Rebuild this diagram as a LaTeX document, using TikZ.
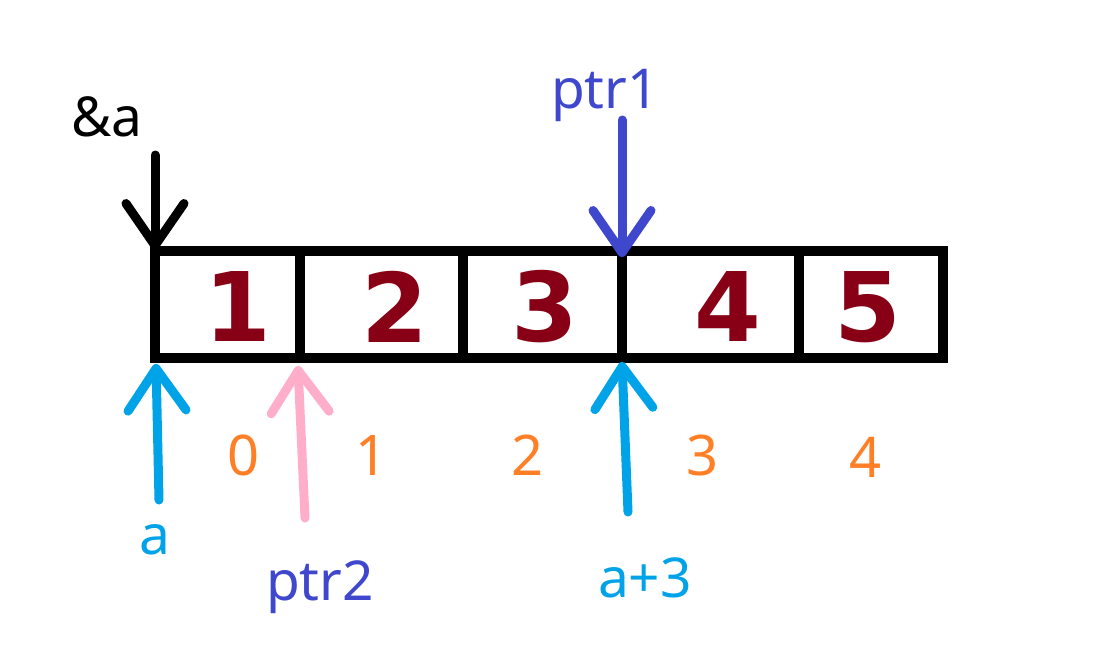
\documentclass[tikz,border=0pt]{standalone}
\usepackage{fontspec}
\setmainfont{Noto Sans}
\newfontfamily\digitfont{DejaVu Sans}
\usetikzlibrary{arrows.meta}
\definecolor{cellred}{HTML}{880015}
\definecolor{ptrblue}{HTML}{3F48CC}
\definecolor{acyan}{HTML}{00A2E8}
\definecolor{pinkp}{HTML}{FFAEC9}
\definecolor{idxorange}{HTML}{FF7F27}
\tikzset{
  boxline/.style={line width=10pt, line cap=rect},
  lbl/.style={inner sep=0pt, font=\fontsize{55}{58}\selectfont},
  digit/.style={inner sep=0pt, text=cellred, font=\digitfont\bfseries\fontsize{96}{96}\selectfont},
  idx/.style={inner sep=0pt, text=idxorange, font=\fontsize{56}{58}\selectfont},
  ptrarrow/.style={line width=9pt, line cap=round,
    -{Straight Barb[length=42pt,width=58pt,line width=9pt,round]}},
}
\begin{document}
\begin{tikzpicture}[x=1pt,y=-1pt]
\useasboundingbox (0,0) rectangle (1114,670);
% array box
\draw[boxline] (155,251) rectangle (943,358);
\foreach \xx in {300,463,622,799} \draw[boxline,line cap=butt] (\xx,251) -- (\xx,358);
% cell values
\node[digit] (v1) at (238,307) {1};
\node[digit] (v2) at (395,307) {2};
\node[digit] (v3) at (545,307) {3};
\node[digit] (v4) at (728,307) {4};
\node[digit] (v5) at (868,307) {5};
% indices
\node[idx] (i0) at (244,455) {0};
\node[idx] (i1) at (372,455) {1};
\node[idx] (i2) at (528,455) {2};
\node[idx] (i3) at (703,455) {3};
\node[idx] (i4) at (866,457) {4};
% labels
\node[lbl] (amp) at (107,117) {\&a};
\node[lbl,text=ptrblue] (p1) at (605,95) {ptr1};
\node[lbl,text=acyan] (la) at (155,540) {a};
\node[lbl,text=ptrblue] (p2) at (320,587) {ptr2};
\node[lbl,text=acyan] (la3) at (645,578) {a+3};
% arrow anchor points
\coordinate (ampS) at (155,155);
\coordinate (ampE) at (155,250);
\coordinate (p1S) at (622,120);
\coordinate (p1E) at (622,257);
\coordinate (aS) at (159,500);
\coordinate (aE) at (156,364);
\coordinate (p2S) at (305,518);
\coordinate (p2E) at (298,366);
\coordinate (a3S) at (628,512);
\coordinate (a3E) at (622,362);
% arrows
\draw[ptrarrow,draw=black] (ampS) -- (ampE);
\draw[ptrarrow,draw=ptrblue] (p1S) -- (p1E);
\draw[ptrarrow,draw=acyan] (aS) -- (aE);
\draw[ptrarrow,draw=pinkp] (p2S) -- (p2E);
\draw[ptrarrow,draw=acyan] (a3S) -- (a3E);
\end{tikzpicture}
\end{document}
